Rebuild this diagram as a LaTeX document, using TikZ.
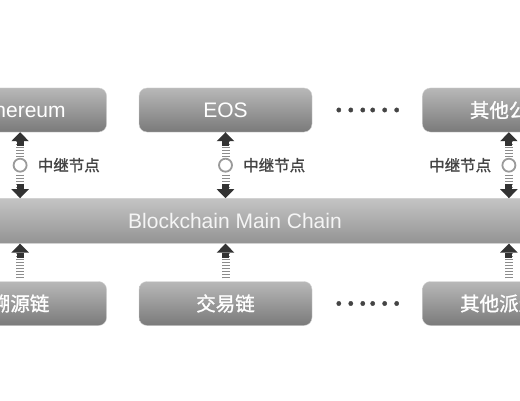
\documentclass[tikz,border=0pt]{standalone}
\usepackage{fontspec}
\setsansfont{Liberation Sans}
\newfontfamily\cjk[FakeBold=1.2]{Noto Sans CJK SC}
\usepackage{xcolor}
\usepackage{tikz}
\usetikzlibrary{positioning,arrows.meta,calc}

\definecolor{boxtop}{HTML}{B8B8B8}
\definecolor{boxbot}{HTML}{7A7A7A}
\definecolor{bartop}{HTML}{C4C4C4}
\definecolor{barbot}{HTML}{939393}
\definecolor{boxedge}{HTML}{D2D2D2}
\definecolor{headc}{HTML}{333333}
\definecolor{stripec}{HTML}{8C8C8C}
\definecolor{ringc}{HTML}{9A9A9A}
\definecolor{labc}{HTML}{444444}

\begin{document}
\begin{tikzpicture}[
    x=1pt,y=1pt,
    chainbox/.style={draw=boxedge,rounded corners=8pt,top color=boxtop,bottom color=boxbot,
      text=white,minimum width=173pt,minimum height=44pt,
      font=\sffamily\fontsize{21}{25}\selectfont},
    mainbar/.style={draw=boxedge,top color=bartop,bottom color=barbot,text=white!92!gray,
      minimum width=620pt,minimum height=45pt,font=\sffamily\fontsize{21}{25}\selectfont},
    zh/.style={font=\cjk\fontsize{19.5}{23}\selectfont},
    relay/.style={circle,draw=ringc,line width=1.8pt,fill=white,minimum size=13pt,
      inner sep=0pt,outer sep=3pt},
    relaylab/.style={text=labc,inner sep=0pt,label distance=8pt,font=\cjk\fontsize{15.5}{18}\selectfont},
    stripe/.style={draw=stripec,line width=8pt,dash pattern=on 1.5pt off 1.5pt},
    upper/.style={stripe,{Triangle[width=17pt,length=9pt,color=headc]Rectangle[width=7pt,length=5pt,color=headc]}-},
    lower/.style={stripe,-{Rectangle[width=7pt,length=5pt,color=headc]Triangle[width=17pt,length=9pt,color=headc]}},
    rise/.style={lower,shorten <=3pt},
    dots/.style={text=labc,inner sep=0pt,font=\cjk\fontsize{32}{34}\selectfont},
    node distance=32pt
  ]
    \useasboundingbox (0,0) rectangle (520,400);
    \clip (0,0) rectangle (520,400);
    % public chains
    \node[chainbox] (eos) at (225.5,290) {EOS};
    \node[chainbox,left=of eos] (eth) {Ethereum};
    \node[chainbox,right=110pt of eos] (pub) {\cjk\fontsize{19.5}{23}\selectfont 其他公链};
    \node[dots] (dtop) at ($(eos.east)!.5!(pub.west)$) {……};
    % main chain
    \node[mainbar,below=66pt of eos,xshift=9.5pt] (main) {Blockchain Main Chain};
    % derived chains
    \node[chainbox,zh] (trade) at (225.5,96.5) {交易链};
    \node[chainbox,zh,left=of trade] (trace) {溯源链};
    \node[chainbox,zh,right=110pt of trade] (other) {其他派生链};
    \node[dots] (dbot) at ($(trade.east)!.5!(other.west)$) {……};
    % relay nodes
    \node[relay,label={[relaylab]right:中继节点}] (r1) at ($(eth.south)!.5!(eth.south |- main.north)$) {};
    \node[relay,label={[relaylab]right:中继节点}] (r2) at ($(eos.south)!.5!(eos.south |- main.north)$) {};
    \node[relay,label={[relaylab]left:中继节点}] (r3) at ($(pub.south)!.5!(pub.south |- main.north)$) {};
    \foreach \b/\r in {eth/r1,eos/r2,pub/r3}{
      \draw[upper] (\b.south) -- (\r);
      \draw[lower] (\r) -- (\r |- main.north);
    }
    \foreach \b in {trace,trade,other}
      \draw[rise] (\b.north) -- (\b.north |- main.south);
  \end{tikzpicture}
\end{document}
